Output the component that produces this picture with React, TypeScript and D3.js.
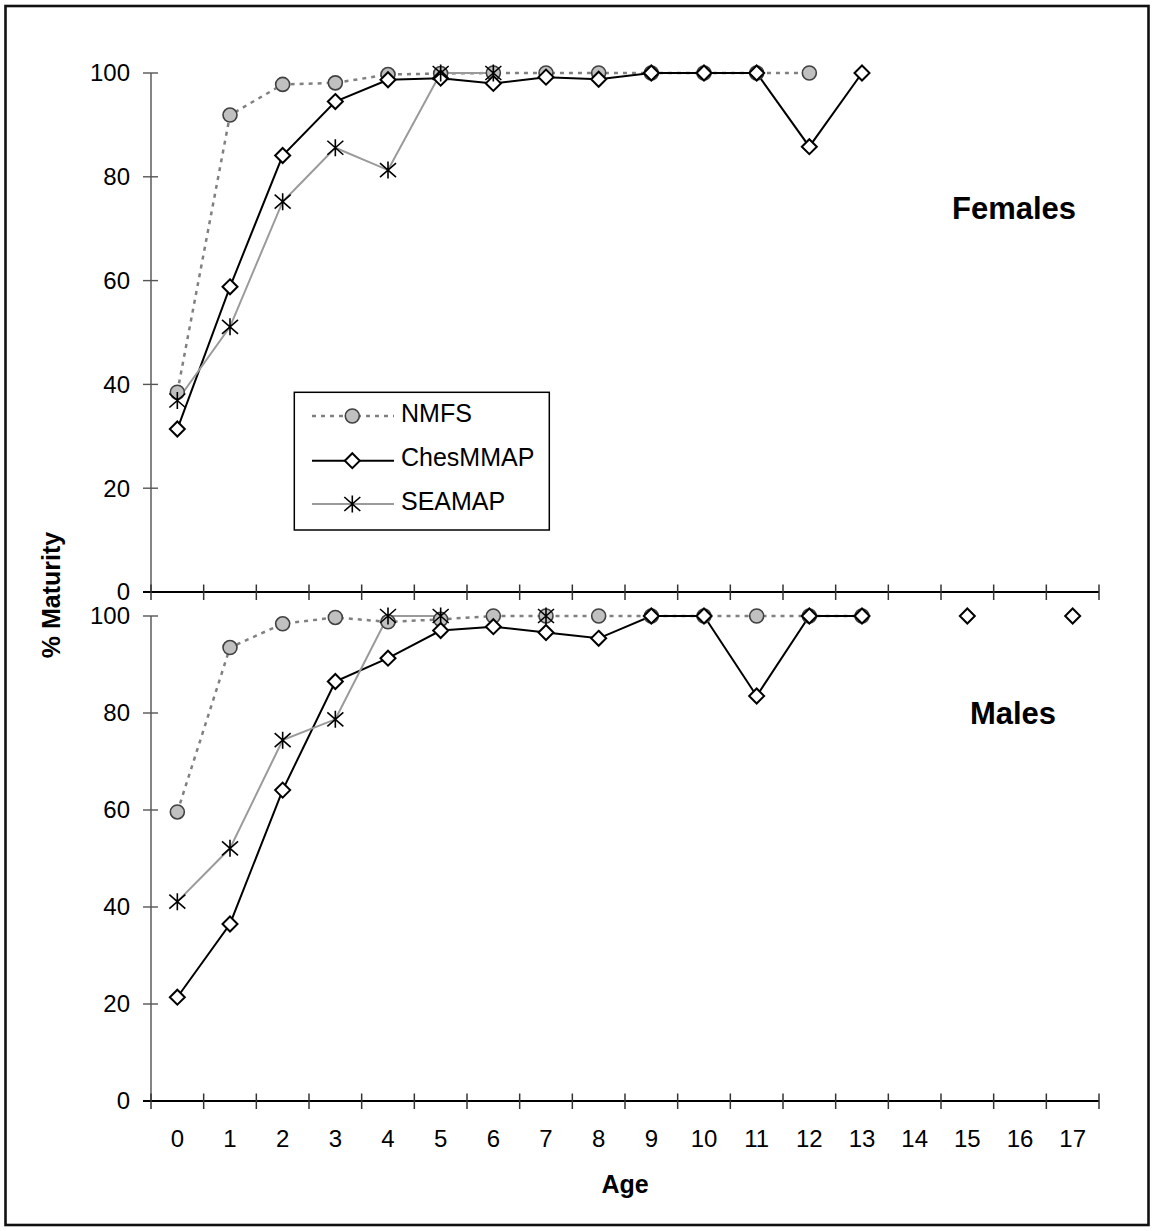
import React from "react";
import * as d3 from "d3";

// Age classes (x axis)
const ages = ["0","1","2","3","4","5","6","7","8","9","10","11","12","13","14","15","16","17"];
const yTicks = [0, 20, 40, 60, 80, 100];

// Percent mature by age; null = no sample at that age
const femaleNMFS = [38.5, 91.9, 97.8, 98.1, 99.7, 99.9, 100, 100, 100, 100, 100, 100, 100];
const femaleChesMMAP = [31.4, 58.8, 84.1, 94.5, 98.7, 99.0, 98.0, 99.2, 98.8, 100, 100, 100, 85.8, 100];
const femaleSEAMAP = [36.9, 51.1, 75.2, 85.6, 81.3, 100, 100];

const maleNMFS = [59.6, 93.5, 98.4, 99.7, 98.8, 99.3, 100, 100, 100, 100, 100, 100, 100, 100];
const maleChesMMAP = [21.4, 36.5, 64.1, 86.5, 91.3, 97.0, 97.8, 96.6, 95.4, 100, 100, 83.5, 100, 100, null, 100, null, 100];
const maleSEAMAP = [41.1, 52.1, 74.4, 78.7, 100, 100, null, 100];

const seriesNames = ["NMFS", "ChesMMAP", "SEAMAP"];

const FONT = "'Liberation Sans', Arial, sans-serif";

const x = d3.scaleBand<string>().domain(ages).range([151, 1099]).paddingInner(0).paddingOuter(0);
const cx = (i: number) => (x(String(i)) as number) + x.bandwidth() / 2;

const yTop = d3.scaleLinear().domain([0, 100]).range([592, 73]);
const yBot = d3.scaleLinear().domain([0, 100]).range([1101, 616]);

type Style = { stroke: string; width: number; dash?: string; marker: "circle" | "diamond" | "star" };
const styles: Style[] = [
  { stroke: "#808080", width: 2.5, dash: "4 5", marker: "circle" },
  { stroke: "#000000", width: 2, marker: "diamond" },
  { stroke: "#9a9a9a", width: 2, marker: "star" },
];

function Marker({ kind, px, py }: { kind: Style["marker"]; px: number; py: number }) {
  if (kind === "circle") {
    return <circle cx={px} cy={py} r={7} fill="#c0c0c0" stroke="#404040" strokeWidth={1.6} />;
  }
  if (kind === "diamond") {
    return (
      <path
        d={`M${px},${py - 7.5}L${px + 7.5},${py}L${px},${py + 7.5}L${px - 7.5},${py}Z`}
        fill="#fff"
        stroke="#000"
        strokeWidth={2}
      />
    );
  }
  return (
    <path
      d={`M${px - 8},${py - 7}L${px + 8},${py + 7}M${px - 8},${py + 7}L${px + 8},${py - 7}M${px},${py - 8.5}L${px},${py + 8.5}`}
      stroke="#000"
      strokeWidth={1.6}
      fill="none"
    />
  );
}

function Panel({ data, y }: { data: (number | null)[][]; y: d3.ScaleLinear<number, number> }) {
  const [y0, y1] = y.range();
  const lineFor = d3
    .line<number | null>()
    .defined((d) => d != null)
    .x((_, i) => cx(i))
    .y((d) => y(d as number));
  return (
    <g>
      {/* y axis */}
      <line x1={151} x2={151} y1={y1} y2={y0} stroke="#666" strokeWidth={1.6} />
      {yTicks.map((t) => (
        <g key={t}>
          <line x1={143} x2={158} y1={y(t)} y2={y(t)} stroke="#555" strokeWidth={1.4} />
          <text x={130} y={y(t)} dy="0.35em" textAnchor="end" fontSize={24} fontFamily={FONT} fill="#000">
            {t}
          </text>
        </g>
      ))}
      {/* x axis */}
      <line x1={143} x2={1099} y1={y0} y2={y0} stroke="#000" strokeWidth={2} />
      {d3.range(ages.length + 1).map((i) => {
        const tx = 151 + i * x.bandwidth();
        return <line key={i} x1={tx} x2={tx} y1={y0 - 7.5} y2={y0 + 8} stroke="#333" strokeWidth={1.5} />;
      })}
      {/* series lines */}
      {data.map((s, k) => (
        <path
          key={"l" + k}
          d={lineFor(s) || ""}
          fill="none"
          stroke={styles[k].stroke}
          strokeWidth={styles[k].width}
          strokeDasharray={styles[k].dash}
        />
      ))}
      {/* series markers */}
      {data.map((s, k) =>
        s.map((v, i) =>
          v == null ? null : <Marker key={`m${k}-${i}`} kind={styles[k].marker} px={cx(i)} py={y(v)} />
        )
      )}
    </g>
  );
}

export default function App() {
  const legendRows = [416, 460.7, 504];
  return (
    <svg
      width={1154}
      height={1231}
      style={{ position: "absolute", left: 0, top: 0, background: "#fff" }}
      fontFamily={FONT}
    >
      <rect x={0} y={0} width={1154} height={1231} fill="#fff" />
      <rect x={5.5} y={6} width={1143} height={1219} fill="none" stroke="#111" strokeWidth={2.6} />

      <Panel data={[femaleNMFS, femaleChesMMAP, femaleSEAMAP]} y={yTop} />
      <Panel data={[maleNMFS, maleChesMMAP, maleSEAMAP]} y={yBot} />

      {/* x tick labels */}
      {ages.map((a, i) => (
        <text key={a} x={cx(i)} y={1146.7} textAnchor="middle" fontSize={24} fill="#000">
          {a}
        </text>
      ))}

      <text x={625} y={1192.7} textAnchor="middle" fontSize={25} fontWeight="bold" fill="#000">
        Age
      </text>
      <text
        transform="translate(60,595) rotate(-90)"
        textAnchor="middle"
        fontSize={25}
        fontWeight="bold"
        fill="#000"
      >
        % Maturity
      </text>

      <text x={1014} y={219.3} textAnchor="middle" fontSize={31} fontWeight="bold" fill="#000">
        Females
      </text>
      <text x={1013} y={724} textAnchor="middle" fontSize={31} fontWeight="bold" fill="#000">
        Males
      </text>

      {/* legend */}
      <rect x={294.3} y={392.3} width={255} height={137.7} fill="#fff" stroke="#000" strokeWidth={1.5} />
      {seriesNames.map((name, k) => (
        <g key={name}>
          <line
            x1={312}
            x2={394}
            y1={legendRows[k]}
            y2={legendRows[k]}
            stroke={styles[k].stroke}
            strokeWidth={styles[k].width}
            strokeDasharray={styles[k].dash}
          />
          <Marker kind={styles[k].marker} px={352.3} py={legendRows[k]} />
          <text x={401} y={legendRows[k] + 5.6} fontSize={25} fill="#000">
            {name}
          </text>
        </g>
      ))}
    </svg>
  );
}
